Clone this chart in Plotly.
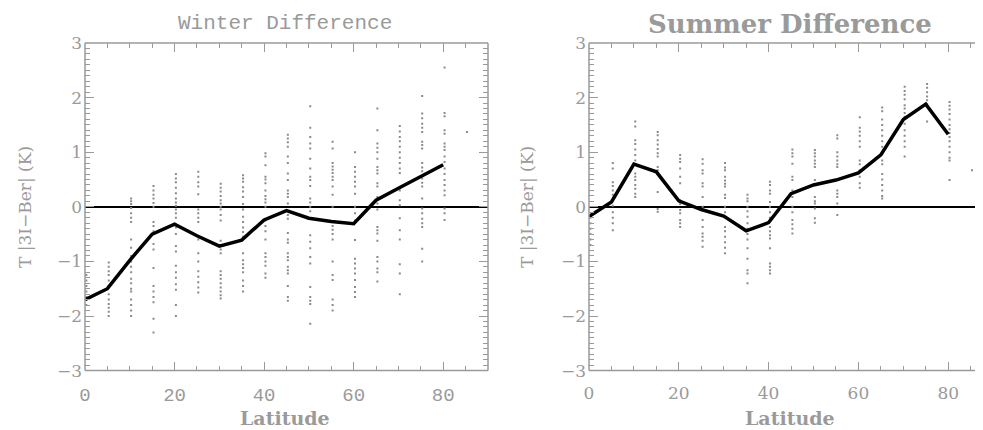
import plotly.graph_objects as go

# ---------------- data ----------------
lat_line = [0, 5, 10, 15, 20, 25, 30, 35, 40, 45, 50, 55, 60, 65, 70, 75, 80]
winter_line = [-1.70, -1.50, -0.98, -0.50, -0.32, -0.53, -0.72, -0.61, -0.24, -0.07,
               -0.21, -0.27, -0.31, 0.12, 0.34, 0.55, 0.77]
summer_line = [-0.18, 0.09, 0.78, 0.64, 0.11, -0.05, -0.17, -0.44, -0.29, 0.24,
               0.40, 0.49, 0.62, 0.95, 1.60, 1.88, 1.33]

winter_dots = {
    0: [-1.25, -1.35, -1.45, -1.55, -1.65, -1.8],
    5: [-1.02, -1.1, -1.18, -1.25, -1.35, -1.45, -1.6, -1.7, -1.78, -1.85, -1.92, -2.0],
    10: [0.15, 0.1, 0.05, -0.02, -0.12, -0.2, -0.28, -0.6, -0.75, -0.9, -1.0, -1.1, -1.2,
         -1.32, -1.4, -1.5, -1.55, -1.7, -1.8, -1.9, -2.0],
    15: [0.38, 0.3, 0.22, 0.15, 0.07, 0.0, -0.28, -0.35, -0.45, -0.68, -0.78, -1.12, -1.45,
         -1.55, -1.65, -1.75, -2.05, -2.3],
    20: [0.6, 0.52, 0.45, 0.35, 0.25, 0.15, 0.08, 0.02, -0.05, -0.12, -0.2, -0.38, -0.5,
         -0.72, -0.82, -1.08, -1.2, -1.3, -1.42, -1.52, -1.8, -2.0],
    25: [0.64, 0.55, 0.45, 0.37, 0.23, -0.05, -0.12, -0.2, -0.28, -0.6, -0.85, -1.0, -1.18,
         -1.28, -1.38, -1.48, -1.57],
    30: [0.42, 0.35, 0.28, 0.2, 0.12, 0.06, 0.0, -0.05, -0.15, -0.25, -0.62, -0.7, -0.78,
         -0.85, -1.18, -1.25, -1.32, -1.4, -1.48, -1.55, -1.62, -1.68],
    35: [0.58, 0.52, 0.46, 0.36, 0.28, 0.18, 0.05, -0.05, -0.18, -0.28, -0.38, -0.46, -0.55,
         -0.85, -0.98, -1.05, -1.12, -1.2, -1.35, -1.45, -1.55],
    40: [0.98, 0.92, 0.76, 0.55, 0.5, 0.43, 0.3, 0.2, 0.14, 0.08, 0.0, -0.25, -0.35, -0.45,
         -0.6, -0.85, -0.92, -1.0, -1.08, -1.22, -1.3],
    45: [1.32, 1.25, 1.18, 1.1, 0.92, 0.8, 0.61, 0.49, 0.3, 0.24, 0.18, 0.06, -0.15, -0.22,
         -0.48, -0.6, -0.66, -0.85, -0.92, -0.98, -1.1, -1.16, -1.22, -1.45, -1.65, -1.72],
    50: [1.84, 1.45, 1.28, 1.16, 1.07, 0.88, 0.7, 0.55, 0.49, 0.38, 0.15, 0.08, 0.0, -0.08,
         -0.52, -0.64, -0.76, -0.92, -1.04, -1.47, -1.65, -1.72, -1.78, -2.14],
    55: [1.19, 1.07, 0.8, 0.74, 0.68, 0.62, 0.55, 0.49, 0.37, 0.22, 0.0, -0.28, -0.35, -0.42,
         -0.5, -0.6, -1.0, -1.25, -1.34, -1.7, -1.8, -1.9],
    60: [1.0, 0.73, 0.64, 0.55, 0.46, 0.37, 0.24, 0.0, -0.12, -0.25, -0.61, -0.95, -1.04,
         -1.13, -1.22, -1.34, -1.47, -1.56, -1.65],
    65: [1.8, 1.4, 1.16, 1.08, 1.0, 0.88, 0.73, 0.67, 0.61, 0.43, 0.37, 0.18, 0.06, -0.05,
         -0.37, -0.43, -0.49, -0.62, -0.92, -1.0, -1.13, -1.2, -1.37],
    70: [1.48, 1.38, 1.28, 1.2, 1.1, 1.0, 0.9, 0.8, 0.7, 0.62, 0.3, 0.12, 0.03, -0.21, -0.43,
         -0.6, -1.05, -1.22, -1.6],
    75: [2.03, 1.71, 1.62, 1.52, 1.45, 1.37, 1.19, 1.13, 1.07, 0.8, 0.72, 0.65, 0.52, 0.44,
         0.37, 0.15, -0.03, -0.12, -0.22, -0.3, -0.37, -0.77, -1.0],
    80: [2.55, 1.72, 1.66, 1.4, 1.34, 1.16, 1.1, 1.04, 0.92, 0.82, 0.7, 0.6, 0.49, 0.4, 0.3,
         0.21, -0.03, -0.12, -0.24],
    85: [1.37],
}

summer_dots = {
    0: [-0.2, -0.3, -0.4, -0.5, -0.6, -0.7],
    5: [0.8, 0.7, 0.45, 0.38, 0.3, 0.22, 0.12, 0.02, -0.1, -0.2, -0.3, -0.43],
    10: [1.56, 1.47, 1.22, 1.15, 1.05, 0.95, 0.85, 0.78, 0.61, 0.55, 0.49, 0.4, 0.33, 0.24, 0.18],
    15: [1.37, 1.31, 1.22, 1.14, 1.06, 0.98, 0.92, 0.73, 0.67, 0.61, 0.27, -0.04, -0.09],
    20: [0.95, 0.88, 0.82, 0.7, 0.55, 0.43, 0.12, 0.05, -0.06, -0.12, -0.24, -0.3, -0.37],
    25: [0.87, 0.79, 0.67, 0.61, 0.43, 0.37, 0.18, 0.0, -0.06, -0.24, -0.37, -0.49, -0.55,
         -0.62, -0.73],
    30: [0.8, 0.72, 0.67, 0.55, 0.48, 0.42, 0.37, 0.22, 0.16, 0.0, -0.1, -0.18, -0.37, -0.45,
         -0.55, -0.65, -0.75, -0.85],
    35: [0.22, 0.15, 0.1, 0.0, -0.08, -0.18, -0.3, -0.4, -0.5, -0.6, -0.76, -0.95, -1.16,
         -1.22, -1.4],
    40: [0.46, 0.4, 0.3, 0.24, 0.09, 0.0, -0.1, -0.2, -0.37, -0.45, -0.52, -0.58, -0.76,
         -1.04, -1.1, -1.16, -1.22],
    45: [1.05, 0.98, 0.92, 0.79, 0.55, 0.49, 0.3, 0.18, 0.0, -0.1, -0.24, -0.32, -0.4, -0.49],
    50: [1.04, 0.98, 0.92, 0.85, 0.79, 0.73, 0.49, 0.4, 0.18, 0.1, 0.06, -0.03, -0.21, -0.29],
    55: [1.31, 1.25, 1.0, 0.92, 0.85, 0.78, 0.73, 0.3, 0.24, 0.18, 0.06, -0.15],
    60: [1.64, 1.45, 1.38, 1.3, 1.2, 1.1, 0.85, 0.78, 0.67, 0.55, 0.43, 0.35],
    65: [1.82, 1.75, 1.6, 1.5, 1.4, 1.3, 1.2, 1.1, 1.0, 0.85, 0.78, 0.6, 0.5, 0.4, 0.3, 0.2, 0.15],
    70: [2.2, 2.12, 2.05, 1.97, 1.86, 1.8, 1.72, 1.65, 1.52, 1.4, 1.3, 1.2, 1.1, 0.92],
    75: [2.25, 2.18, 2.1, 2.02, 1.95, 1.88, 1.83, 1.56],
    80: [1.92, 1.85, 1.78, 1.7, 1.6, 1.5, 1.42, 1.35, 1.28, 1.2, 1.1, 1.0, 0.9, 0.85, 0.49],
    85: [0.67],
}

x_tickvals = [0, 20, 40, 60, 80]
y_tickvals = [-3, -2, -1, 0, 1, 2, 3]

# ---------------- style ----------------
PAGE_W, PAGE_H = 983, 430
OFF = 8                      # default page margin around the plot div
W, H = PAGE_W - OFF, PAGE_H - OFF
GRAY = "#9a9a9a"
DOT = "#8a8a8a"
COL_OFFSET = 0.3  # station columns drawn just right of each 5-degree band


def px_x(p):  # page pixel -> paper x
    return (p - OFF) / W


def px_y(p):  # page pixel -> paper y
    return 1 - (p - OFF) / H


def flatten(d):
    xs, ys = [], []
    for lat, vals in d.items():
        xs += [lat + COL_OFFSET] * len(vals)
        ys += vals
    return xs, ys


fig = go.Figure()

for dots, line, xa, ya in [(winter_dots, winter_line, "x", "y"),
                           (summer_dots, summer_line, "x2", "y2")]:
    dx, dy = flatten(dots)
    fig.add_trace(go.Scatter(x=dx, y=dy, mode="markers", xaxis=xa, yaxis=ya,
                             marker=dict(symbol="square", size=2, color=DOT,
                                         line=dict(width=0)),
                             showlegend=False, hoverinfo="skip"))
    fig.add_trace(go.Scatter(x=lat_line, y=line, mode="lines", xaxis=xa, yaxis=ya,
                             line=dict(color="black", width=3.5),
                             showlegend=False))

# plot areas in page pixels
L1, R1 = 85, 488
L2 = 589
PX_PER_DEG = 4.49
TOP, BOT = 43, 370.6
x2_max = (PAGE_W - L2) / PX_PER_DEG

ydom = [px_y(BOT), px_y(TOP)]

thin_font = dict(family="Liberation Mono", size=19, color=GRAY)
serif_font = dict(family="DejaVu Serif", size=17, color=GRAY)

common_x = dict(showgrid=False, zeroline=False, showline=False, automargin=False,
                ticks="inside", ticklen=9, tickwidth=1, tickcolor=GRAY,
                tickvals=x_tickvals, ticklabelstandoff=10,
                minor=dict(dtick=5, tick0=0, ticks="inside", ticklen=5,
                           tickcolor=GRAY, tickwidth=1),
                fixedrange=True)
common_y = dict(showgrid=False, zeroline=True, zerolinecolor="black", zerolinewidth=1.6,
                showline=False, range=[-3, 3], automargin=False,
                ticks="inside", ticklen=9, tickwidth=1, tickcolor=GRAY,
                tickvals=y_tickvals, tickfont=serif_font, ticklabelstandoff=2,
                minor=dict(dtick=0.1, tick0=0, ticks="inside", ticklen=5,
                           tickcolor=GRAY, tickwidth=1),
                fixedrange=True)

fig.update_layout(
    width=W, height=H, autosize=False,
    margin=dict(l=0, r=0, t=0, b=0, pad=0, autoexpand=False),
    paper_bgcolor="white", plot_bgcolor="white",
    xaxis=dict(common_x, domain=[px_x(L1), px_x(R1)], range=[0, 90], anchor="y",
               mirror="allticks", tickfont=thin_font),
    yaxis=dict(common_y, domain=ydom, anchor="x", mirror="allticks"),
    xaxis2=dict(common_x, domain=[px_x(L2), 1.0], range=[0, x2_max], anchor="y2",
                mirror="allticks", tickfont=dict(family="DejaVu Serif", size=17, color=GRAY)),
    yaxis2=dict(common_y, domain=ydom, anchor="x2", mirror=False),
)

# frame lines
frame = dict(color=GRAY, width=1.5)
shapes = []
for (l, r) in [(L1, R1), (L2, PAGE_W)]:
    shapes.append(dict(type="line", xref="paper", yref="paper", x0=px_x(l), x1=px_x(r),
                       y0=ydom[0], y1=ydom[0], line=frame))
    shapes.append(dict(type="line", xref="paper", yref="paper", x0=px_x(l), x1=px_x(r),
                       y0=ydom[1], y1=ydom[1], line=frame))
    shapes.append(dict(type="line", xref="paper", yref="paper", x0=px_x(l), x1=px_x(l),
                       y0=ydom[0], y1=ydom[1], line=frame))
shapes.append(dict(type="line", xref="paper", yref="paper", x0=px_x(R1), x1=px_x(R1),
                   y0=ydom[0], y1=ydom[1], line=frame))
fig.update_layout(shapes=shapes)

# titles and axis labels
ann = []
ann.append(dict(text="Winter Difference", x=px_x(285), y=px_y(24), xref="paper", yref="paper",
                showarrow=False, xanchor="center", yanchor="middle",
                font=dict(family="Liberation Mono", size=21, color=GRAY)))
ann.append(dict(text="<b>Summer Difference</b>", x=px_x(790), y=px_y(24), xref="paper",
                yref="paper", showarrow=False, xanchor="center", yanchor="middle",
                font=dict(family="DejaVu Serif", size=26, color=GRAY)))
for cx in (285, 790):
    ann.append(dict(text="<b>Latitude</b>", x=px_x(cx), y=px_y(418), xref="paper",
                    yref="paper", showarrow=False, xanchor="center", yanchor="middle",
                    font=dict(family="DejaVu Serif", size=19, color=GRAY)))
for cx in (25, 527):
    ann.append(dict(text="T |3I\u2212Ber| (K)", x=px_x(cx), y=px_y(207), xref="paper",
                    yref="paper", showarrow=False, xanchor="center", yanchor="middle",
                    textangle=-90,
                    font=dict(family="DejaVu Serif", size=17, color=GRAY)))
fig.update_layout(annotations=ann)

fig.write_html("out.html")
